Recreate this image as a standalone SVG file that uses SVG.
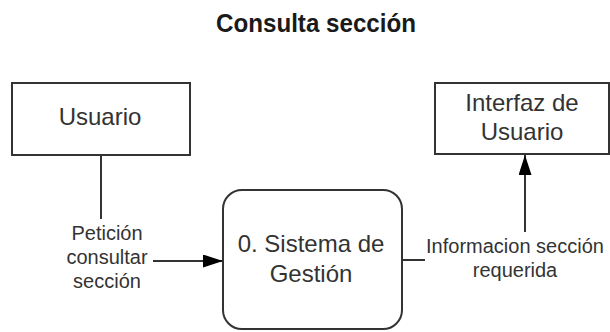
<svg xmlns="http://www.w3.org/2000/svg" width="610" height="332" viewBox="0 0 610 332">
<defs>
<marker id="arr" markerWidth="20" markerHeight="13" refX="20" refY="6.5" orient="auto" markerUnits="userSpaceOnUse">
<path d="M0,0 L20,6.5 L0,13 Z" fill="#000"/>
</marker>
</defs>
<style>
.box{fill:#fff;stroke:#333;stroke-width:2}
.t{font-family:"Liberation Sans",Arial,sans-serif;font-size:24px;fill:#333;text-anchor:middle}
.l{font-family:"Liberation Sans",Arial,sans-serif;font-size:20px;fill:#333;text-anchor:middle}
.c{stroke:#333;stroke-width:2;fill:none}
</style>
<rect width="610" height="332" fill="#fff"/>
<text x="316" y="32" font-family="Liberation Sans,Arial,sans-serif" font-weight="bold" font-size="25" fill="#1a1a1a" text-anchor="middle" textLength="200" lengthAdjust="spacingAndGlyphs">Consulta sección</text>
<g id="connectors">
<line class="c" x1="101" y1="155" x2="101" y2="219"/>
<line class="c" x1="153" y1="261" x2="223" y2="261" marker-end="url(#arr)"/>
<line class="c" x1="402" y1="260" x2="425" y2="260"/>
<line class="c" x1="525" y1="232" x2="525" y2="155" marker-end="url(#arr)"/>
<text class="l" x="107" y="240">Petición</text>
<text class="l" x="107" y="264">consultar</text>
<text class="l" x="107" y="288">sección</text>
<text class="l" x="515" y="253">Informacion sección</text>
<text class="l" x="515" y="277">requerida</text>
</g>
<g id="usuario">
<rect class="box" x="12" y="83" width="178" height="72"/>
<text class="t" x="100" y="125">Usuario</text>
</g>
<g id="interfaz">
<rect class="box" x="435" y="83" width="174" height="71"/>
<text class="t" x="522" y="111">Interfaz de</text>
<text class="t" x="522" y="140">Usuario</text>
</g>
<g id="sistema">
<rect class="box" x="223" y="190" width="179" height="139" rx="19"/>
<text class="t" x="311" y="252">0. Sistema de</text>
<text class="t" x="311" y="282">Gestión</text>
</g>
</svg>
